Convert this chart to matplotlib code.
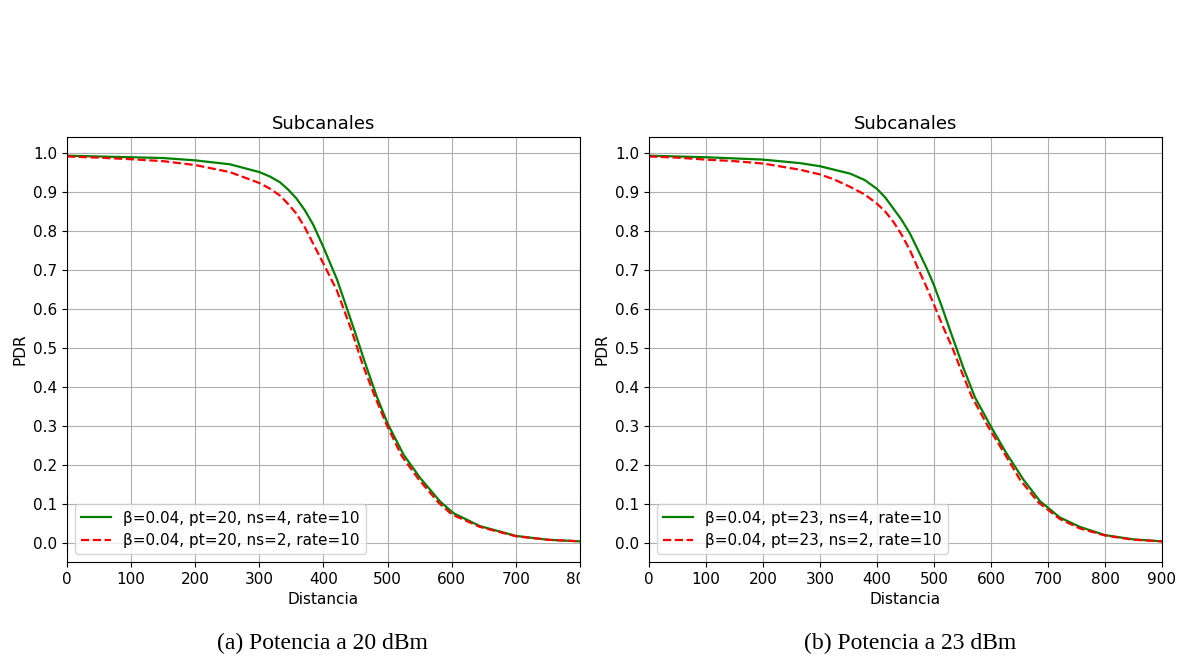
import matplotlib.pyplot as plt
from matplotlib.transforms import Bbox, TransformedBbox

# distancias (m) y PDR
dist_20_ns4 = [0, 50, 100, 150, 200, 254, 300, 316, 332, 345, 358, 371, 384, 400, 421,
               447, 465, 483, 500, 525, 551, 582, 603, 644, 700, 750, 800]
pdr_20_ns4 = [0.992, 0.990, 0.988, 0.986, 0.980, 0.970, 0.950, 0.939, 0.924, 0.905,
              0.882, 0.852, 0.815, 0.757, 0.675, 0.550, 0.460, 0.375, 0.305, 0.225,
              0.165, 0.105, 0.075, 0.042, 0.017, 0.007, 0.003]
dist_20_ns2 = [0, 50, 100, 150, 200, 254, 300, 316, 332, 345, 358, 371, 384, 400, 421,
               444, 461, 481, 499, 522, 548, 579, 600, 644, 700, 750, 800]
pdr_20_ns2 = [0.990, 0.987, 0.983, 0.978, 0.968, 0.950, 0.922, 0.908, 0.890, 0.868,
              0.843, 0.808, 0.766, 0.715, 0.646, 0.543, 0.457, 0.371, 0.300, 0.222,
              0.163, 0.103, 0.072, 0.040, 0.016, 0.007, 0.003]

dist_23_ns4 = [0, 50, 100, 150, 200, 265, 300, 353, 378, 400, 415, 429, 443, 458, 472,
               487, 500, 515, 528, 539, 551, 572, 600, 627, 657, 686, 721, 756, 800,
               850, 900]
pdr_23_ns4 = [0.992, 0.990, 0.988, 0.985, 0.982, 0.973, 0.965, 0.946, 0.930, 0.907,
              0.884, 0.856, 0.828, 0.792, 0.750, 0.704, 0.660, 0.600, 0.545, 0.500,
              0.450, 0.372, 0.297, 0.229, 0.161, 0.106, 0.064, 0.040, 0.019, 0.008,
              0.003]
dist_23_ns2 = [0, 50, 100, 150, 200, 265, 300, 325, 353, 378, 400, 415, 429, 443, 458,
               472, 487, 500, 516, 533, 548, 566, 595, 625, 651, 683, 721, 756, 800,
               850, 900]
pdr_23_ns2 = [0.990, 0.987, 0.982, 0.978, 0.972, 0.956, 0.944, 0.931, 0.912, 0.893,
              0.869, 0.848, 0.822, 0.790, 0.749, 0.703, 0.655, 0.610, 0.553, 0.497,
              0.440, 0.375, 0.297, 0.225, 0.161, 0.103, 0.060, 0.036, 0.018, 0.007,
              0.003]

labels_20 = ['β=0.04, pt=20, ns=4, rate=10', 'β=0.04, pt=20, ns=2, rate=10']
labels_23 = ['β=0.04, pt=23, ns=4, rate=10', 'β=0.04, pt=23, ns=2, rate=10']
captions = ['(a) Potencia a 20 dBm', '(b) Potencia a 23 dBm']

fig = plt.figure(figsize=(11.81, 6.57), dpi=100)

ax1 = fig.add_axes([0.0567, 0.1446, 0.4344, 0.6469])
ax2 = fig.add_axes([0.5495, 0.1446, 0.4344, 0.6469])

panels = [(ax1, dist_20_ns4, pdr_20_ns4, dist_20_ns2, pdr_20_ns2, labels_20, 800),
          (ax2, dist_23_ns4, pdr_23_ns4, dist_23_ns2, pdr_23_ns2, labels_23, 900)]

for ax, d4, y4, d2, y2, labs, xmax in panels:
    ax.plot(d4, y4, 'g-', linewidth=1.6, label=labs[0])
    ax.plot(d2, y2, 'r--', linewidth=1.6, label=labs[1])
    ax.set_xlim(0, xmax)
    ax.set_xticks(range(0, xmax + 1, 100))
    ax.set_ylim(-0.05, 1.04)
    ax.set_yticks([i / 10 for i in range(11)])
    ax.set_title('Subcanales', fontsize=13)
    ax.set_xlabel('Distancia', fontsize=11)
    ax.set_ylabel('PDR', fontsize=11)
    ax.tick_params(labelsize=11)
    ax.grid(True)
    ax.legend(loc='lower left', fontsize=11)

# en el original la etiqueta "800" queda recortada por el borde de la imagen
clip = TransformedBbox(Bbox([[0, 0], [0.4915, 1]]), fig.transFigure)
for lab in ax1.get_xticklabels():
    lab.set_clip_box(clip)
    lab.set_clip_on(True)

fig.text(0.273, 0.021, captions[0], fontsize=17, family='Liberation Serif',
         ha='center', va='center')
fig.text(0.771, 0.021, captions[1], fontsize=17, family='Liberation Serif',
         ha='center', va='center')

plt.savefig('out.png', dpi=100)
